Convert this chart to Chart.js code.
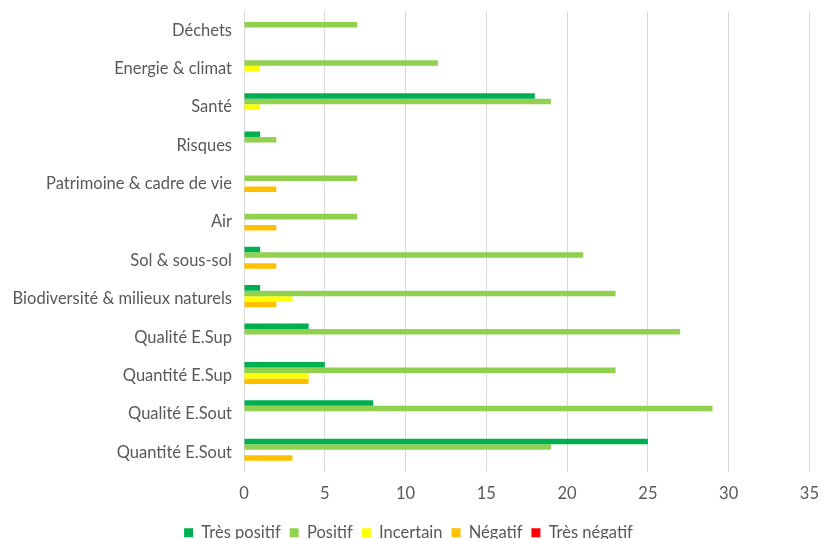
<!DOCTYPE html>
<html>
<head>
<meta charset="utf-8">
<script src="https://cdn.jsdelivr.net/npm/chart.js@4"></script>
<style>
  html, body { margin: 0; padding: 0; background: #fff; }
  #wrap { width: 831px; height: 539px; }
</style>
</head>
<body>
<div id="wrap"><canvas id="impactChart"></canvas></div>
<script>
const categories = [
  "Déchets", "Energie & climat", "Santé", "Risques", "Patrimoine & cadre de vie", "Air",
  "Sol & sous-sol", "Biodiversité & milieux naturels", "Qualité E.Sup", "Quantité E.Sup",
  "Qualité E.Sout", "Quantité E.Sout"
];
const tresPositif = [0, 0, 18, 1, 0, 0, 1, 1, 4, 5, 8, 25];
const positif     = [7, 12, 19, 2, 7, 7, 21, 23, 27, 23, 29, 19];
const incertain   = [0, 1, 1, 0, 0, 0, 0, 3, 0, 4, 0, 0];
const negatif     = [0, 0, 0, 0, 2, 2, 2, 2, 0, 4, 0, 3];
const tresNegatif = [0, 0, 0, 0, 0, 0, 0, 0, 0, 0, 0, 0];
const xTicks = [0, 5, 10, 15, 20, 25, 30, 35];

window.onload = function () {
  const ctx = document.getElementById("impactChart").getContext("2d");
  const font = { family: "Lato, 'Open Sans', sans-serif", size: 16.5 };

  new Chart(ctx, {
    type: "bar",
    data: {
      labels: categories,
      datasets: [
        { label: "Très positif", data: tresPositif, backgroundColor: "#00B050" },
        { label: "Positif", data: positif, backgroundColor: "#92D050" },
        { label: "Incertain", data: incertain, backgroundColor: "#FFFF00" },
        { label: "Négatif", data: negatif, backgroundColor: "#FFC000" },
        { label: "Très négatif", data: tresNegatif, backgroundColor: "#FF0000" }
      ]
    },
    options: {
      indexAxis: "y",
      responsive: true,
      maintainAspectRatio: false,
      animation: false,
      datasets: { bar: { barPercentage: 1, categoryPercentage: 0.72 } },
      layout: { padding: { top: 11, right: 14, bottom: -12, left: 0 } },
      scales: {
        x: {
          min: 0,
          max: 35,
          afterBuildTicks: s => { s.ticks = xTicks.map(v => ({ value: v })); },
          grid: { color: "#d9d9d9", lineWidth: 1, drawTicks: false },
          border: { display: false },
          ticks: { color: "#595959", font: font, padding: 12 }
        },
        y: {
          afterFit: s => { s.width = 244; s.paddingTop = 0; s.paddingBottom = 0; },
          grid: { display: false, drawTicks: false },
          border: { color: "#d9d9d9" },
          ticks: { color: "#595959", font: font, padding: 12 }
        }
      },
      plugins: {
        legend: {
          position: "bottom",
          labels: { color: "#595959", font: font, boxWidth: 9, boxHeight: 9, padding: 9 }
        },
        tooltip: { enabled: false }
      }
    }
  });
};
</script>
</body>
</html>
